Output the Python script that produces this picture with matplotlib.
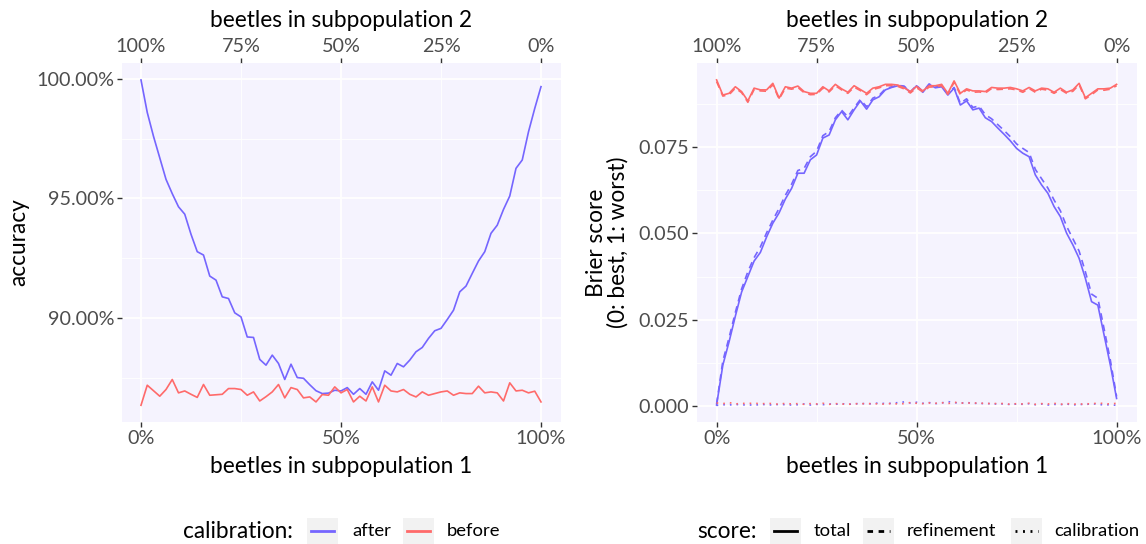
import numpy as np
import matplotlib
matplotlib.use("Agg")
import matplotlib.pyplot as plt
from matplotlib.patches import Rectangle
from matplotlib.lines import Line2D

plt.rcParams['font.family'] = ['Lato', 'DejaVu Sans']

# share of beetles in subpopulation 1 (64 beetles, 65 steps)
share = np.arange(65) / 64

acc_after = [99.96, 98.60, 97.60, 96.70, 95.80, 95.20, 94.65, 94.34, 93.50, 92.77,
             92.63, 91.75, 91.58, 90.88, 90.81, 90.21, 90.04, 89.20, 89.18, 88.26,
             88.02, 88.44, 88.09, 87.42, 88.06, 87.50, 87.47, 87.20, 86.95, 86.83,
             86.85, 86.97, 86.94, 87.08, 86.80, 87.04, 86.80, 87.32, 86.97, 87.78,
             87.60, 88.09, 87.95, 88.23, 88.58, 88.76, 89.14, 89.46, 89.56, 89.93,
             90.32, 91.09, 91.33, 91.86, 92.38, 92.77, 93.54, 93.88, 94.54, 95.10,
             96.26, 96.61, 97.79, 98.77, 99.68]
acc_before = [86.34, 87.18, 86.95, 86.72, 87.00, 87.42, 86.86, 86.94, 86.80, 86.67,
              87.21, 86.76, 86.78, 86.80, 87.04, 87.04, 87.00, 86.76, 86.90, 86.52,
              86.70, 86.90, 87.21, 86.65, 87.08, 87.00, 86.65, 86.69, 86.48, 86.79,
              86.76, 87.11, 86.86, 87.00, 86.48, 86.72, 86.52, 87.11, 86.48, 87.18,
              86.94, 86.90, 87.00, 86.80, 86.69, 86.90, 86.76, 86.83, 86.90, 86.94,
              86.76, 86.86, 86.83, 86.83, 87.14, 86.86, 86.90, 86.86, 86.52, 87.28,
              86.94, 86.97, 86.86, 86.93, 86.48]

brier_after_total = [0.0002, 0.0118, 0.0186, 0.0260, 0.0330, 0.0375, 0.0420, 0.0445, 0.0490, 0.0530,
                     0.0560, 0.0600, 0.0631, 0.0675, 0.0675, 0.0714, 0.0728, 0.0777, 0.0786, 0.0830,
                     0.0854, 0.0830, 0.0859, 0.0885, 0.0861, 0.0888, 0.0897, 0.0917, 0.0924, 0.0929,
                     0.0926, 0.0910, 0.0929, 0.0910, 0.0933, 0.0923, 0.0926, 0.0902, 0.0922, 0.0873,
                     0.0885, 0.0859, 0.0864, 0.0836, 0.0825, 0.0806, 0.0788, 0.0769, 0.0747, 0.0733,
                     0.0723, 0.0670, 0.0641, 0.0617, 0.0578, 0.0549, 0.0501, 0.0467, 0.0428, 0.0370,
                     0.0302, 0.0292, 0.0205, 0.0118, 0.0021]
brier_after_refinement = [0.0005, 0.0130, 0.0198, 0.0271, 0.0339, 0.0389, 0.0430, 0.0461, 0.0502, 0.0539,
                          0.0573, 0.0611, 0.0643, 0.0683, 0.0689, 0.0723, 0.0739, 0.0784, 0.0796, 0.0836,
                          0.0858, 0.0839, 0.0865, 0.0889, 0.0868, 0.0893, 0.0901, 0.0920, 0.0926, 0.0930,
                          0.0928, 0.0911, 0.0930, 0.0912, 0.0934, 0.0925, 0.0928, 0.0905, 0.0924, 0.0878,
                          0.0891, 0.0866, 0.0870, 0.0845, 0.0833, 0.0816, 0.0799, 0.0781, 0.0760, 0.0747,
                          0.0735, 0.0686, 0.0659, 0.0632, 0.0597, 0.0566, 0.0521, 0.0485, 0.0449, 0.0389,
                          0.0324, 0.0312, 0.0223, 0.0132, 0.0027]
brier_after_calibration = [0.0001, 0.0003, 0.0002, 0.0004, 0.0002, 0.0003, 0.0001, 0.0004, 0.0003, 0.0002,
                           0.0004, 0.0003, 0.0002, 0.0003, 0.0005, 0.0002, 0.0004, 0.0003, 0.0005, 0.0004,
                           0.0006, 0.0004, 0.0005, 0.0007, 0.0005, 0.0006, 0.0008, 0.0006, 0.0007, 0.0009,
                           0.0011, 0.0008, 0.0010, 0.0007, 0.0009, 0.0006, 0.0008, 0.0012, 0.0009, 0.0007,
                           0.0010, 0.0006, 0.0008, 0.0005, 0.0007, 0.0004, 0.0006, 0.0003, 0.0005, 0.0004,
                           0.0006, 0.0003, 0.0005, 0.0002, 0.0004, 0.0003, 0.0005, 0.0002, 0.0004, 0.0003,
                           0.0006, 0.0004, 0.0002, 0.0003, 0.0001]
brier_before_total = [0.0946, 0.0902, 0.0907, 0.0926, 0.0912, 0.0885, 0.0922, 0.0917, 0.0917, 0.0936,
                      0.0893, 0.0926, 0.0922, 0.0928, 0.0912, 0.0907, 0.0907, 0.0926, 0.0914, 0.0933,
                      0.0920, 0.0910, 0.0929, 0.0918, 0.0907, 0.0922, 0.0926, 0.0933, 0.0933, 0.0931,
                      0.0923, 0.0912, 0.0927, 0.0914, 0.0929, 0.0929, 0.0933, 0.0907, 0.0943, 0.0907,
                      0.0920, 0.0914, 0.0914, 0.0912, 0.0924, 0.0922, 0.0922, 0.0924, 0.0920, 0.0914,
                      0.0924, 0.0914, 0.0922, 0.0920, 0.0910, 0.0922, 0.0910, 0.0917, 0.0936, 0.0894,
                      0.0907, 0.0920, 0.0920, 0.0922, 0.0933]
brier_before_refinement = [0.0941, 0.0899, 0.0903, 0.0922, 0.0909, 0.0881, 0.0918, 0.0914, 0.0913, 0.0932,
                           0.0890, 0.0922, 0.0919, 0.0924, 0.0909, 0.0903, 0.0904, 0.0922, 0.0911, 0.0929,
                           0.0917, 0.0907, 0.0925, 0.0915, 0.0903, 0.0918, 0.0923, 0.0929, 0.0930, 0.0927,
                           0.0920, 0.0908, 0.0923, 0.0911, 0.0925, 0.0926, 0.0929, 0.0904, 0.0939, 0.0903,
                           0.0917, 0.0910, 0.0911, 0.0908, 0.0921, 0.0918, 0.0919, 0.0920, 0.0917, 0.0910,
                           0.0921, 0.0910, 0.0919, 0.0916, 0.0907, 0.0918, 0.0907, 0.0913, 0.0932, 0.0891,
                           0.0903, 0.0917, 0.0916, 0.0919, 0.0929]
brier_before_calibration = [0.0008, 0.0006, 0.0009, 0.0005, 0.0007, 0.0006, 0.0008, 0.0005, 0.0007, 0.0006,
                            0.0004, 0.0007, 0.0005, 0.0006, 0.0004, 0.0006, 0.0005, 0.0007, 0.0004, 0.0006,
                            0.0005, 0.0004, 0.0006, 0.0005, 0.0007, 0.0005, 0.0006, 0.0004, 0.0007, 0.0005,
                            0.0006, 0.0009, 0.0007, 0.0006, 0.0008, 0.0007, 0.0009, 0.0006, 0.0010, 0.0008,
                            0.0007, 0.0009, 0.0006, 0.0008, 0.0005, 0.0007, 0.0006, 0.0004, 0.0006, 0.0005,
                            0.0007, 0.0004, 0.0006, 0.0005, 0.0007, 0.0004, 0.0006, 0.0005, 0.0004, 0.0006,
                            0.0005, 0.0008, 0.0006, 0.0005, 0.0007]

pct_ticks = [0, 0.25, 0.5, 0.75, 1]
pct_labels = ['0%', '25%', '50%', '75%', '100%']
acc_ticks = [90, 95, 100]
brier_ticks = [0, 0.025, 0.05, 0.075]

BLUE = '#7565FF'
RED = '#FF6A6A'
BG = '#F5F3FE'
W, H = 1146, 544
TICK_SIZE = 14.2
TITLE_SIZE = 16.3

fig = plt.figure(figsize=(W / 100, H / 100), dpi=100)


def px_box(x0, y0, x1, y1):
    return [x0 / W, 1 - y1 / H, (x1 - x0) / W, (y1 - y0) / H]


def style_axes(ax, xlim, ylim, yminor):
    ax.set_facecolor(BG)
    for s in ax.spines.values():
        s.set_visible(False)
    ax.set_xlim(*xlim)
    ax.set_ylim(*ylim)
    ax.set_xticks(pct_ticks[::2])
    ax.set_xticklabels(pct_labels[::2])
    ax.set_xticks([0.25, 0.75], minor=True)
    ax.set_yticks(yminor, minor=True)
    ax.grid(True, which='major', color='white', lw=1.3)
    ax.grid(True, which='minor', color='white', lw=0.6)
    ax.tick_params(which='major', length=3.5, width=1, color='#333333',
                   labelcolor='#4D4D4D', labelsize=TICK_SIZE, pad=2)
    ax.tick_params(which='minor', length=0)
    ax.set_axisbelow(True)
    ax.set_xlabel('beetles in subpopulation 1', fontsize=TITLE_SIZE, labelpad=6.5)
    top = ax.secondary_xaxis('top', functions=(lambda v: 1 - v, lambda v: 1 - v))
    top.set_xticks(pct_ticks)
    top.set_xticklabels(pct_labels)
    top.tick_params(length=3.5, width=1, color='#333333', labelcolor='#4D4D4D',
                    labelsize=TICK_SIZE, pad=2)
    for s in top.spines.values():
        s.set_visible(False)
    top.set_xlabel('beetles in subpopulation 2', fontsize=TITLE_SIZE, labelpad=8)


# accuracy panel
ax1 = fig.add_axes(px_box(122, 63, 561, 422))
ax1.plot(share, acc_after, color=BLUE, lw=1.2)
ax1.plot(share, acc_before, color=RED, lw=1.2)
style_axes(ax1, (-0.0475, 1.05), (85.64, 100.67), [87.5, 92.5, 97.5])
ax1.set_yticks(acc_ticks)
ax1.set_yticklabels([f'{v:.2f}%' for v in acc_ticks])
ax1.set_ylabel('accuracy', fontsize=TITLE_SIZE, labelpad=5)

# brier score panel
ax2 = fig.add_axes(px_box(697, 63, 1137, 422))
ax2.plot(share, brier_after_total, color=BLUE, lw=1.2)
ax2.plot(share, brier_after_refinement, color=BLUE, lw=1.2, ls=(0, (4, 3)))
ax2.plot(share, brier_after_calibration, color=BLUE, lw=1.2, ls=(0, (1, 3)))
ax2.plot(share, brier_before_total, color=RED, lw=1.2)
ax2.plot(share, brier_before_refinement, color=RED, lw=1.2, ls=(0, (4, 3)))
ax2.plot(share, brier_before_calibration, color=RED, lw=1.2, ls=(0, (1, 3)))
style_axes(ax2, (-0.049, 1.051), (-0.00473, 0.0995), [0.0125, 0.0375, 0.0625, 0.0875])
ax2.set_yticks(brier_ticks)
ax2.set_yticklabels([f'{v:.3f}' for v in brier_ticks])
ax2.set_ylabel('Brier score\n(0: best, 1: worst)', fontsize=TITLE_SIZE, labelpad=7, linespacing=1.0)


# legends drawn by hand so the keys get ggplot-like grey boxes
def legend(title, tx, entries):
    yc = 531
    fig.text(tx / W, 1 - yc / H, title, fontsize=TITLE_SIZE, va='center', ha='left')
    for bx, lx, color, ls, label in entries:
        fig.add_artist(Rectangle((bx / W, 1 - (yc + 13) / H), 31 / W, 26 / H,
                                 transform=fig.transFigure, facecolor='#F2F2F2',
                                 edgecolor='none'))
        fig.add_artist(Line2D([(bx + 4) / W, (bx + 27) / W], [1 - yc / H, 1 - yc / H],
                              transform=fig.transFigure, color=color, ls=ls, lw=2.0))
        fig.text(lx / W, 1 - yc / H, label, fontsize=13.3, va='center', ha='left')


legend('calibration:', 183, [(307, 352, BLUE, '-', 'after'),
                             (403, 447, RED, '-', 'before')])
legend('score:', 697, [(770, 814, 'black', '-', 'total'),
                       (863, 907, 'black', (0, (2, 2)), 'refinement'),
                       (1011, 1054, 'black', (0, (0.7, 2)), 'calibration')])

fig.savefig('out.png', dpi=100)
